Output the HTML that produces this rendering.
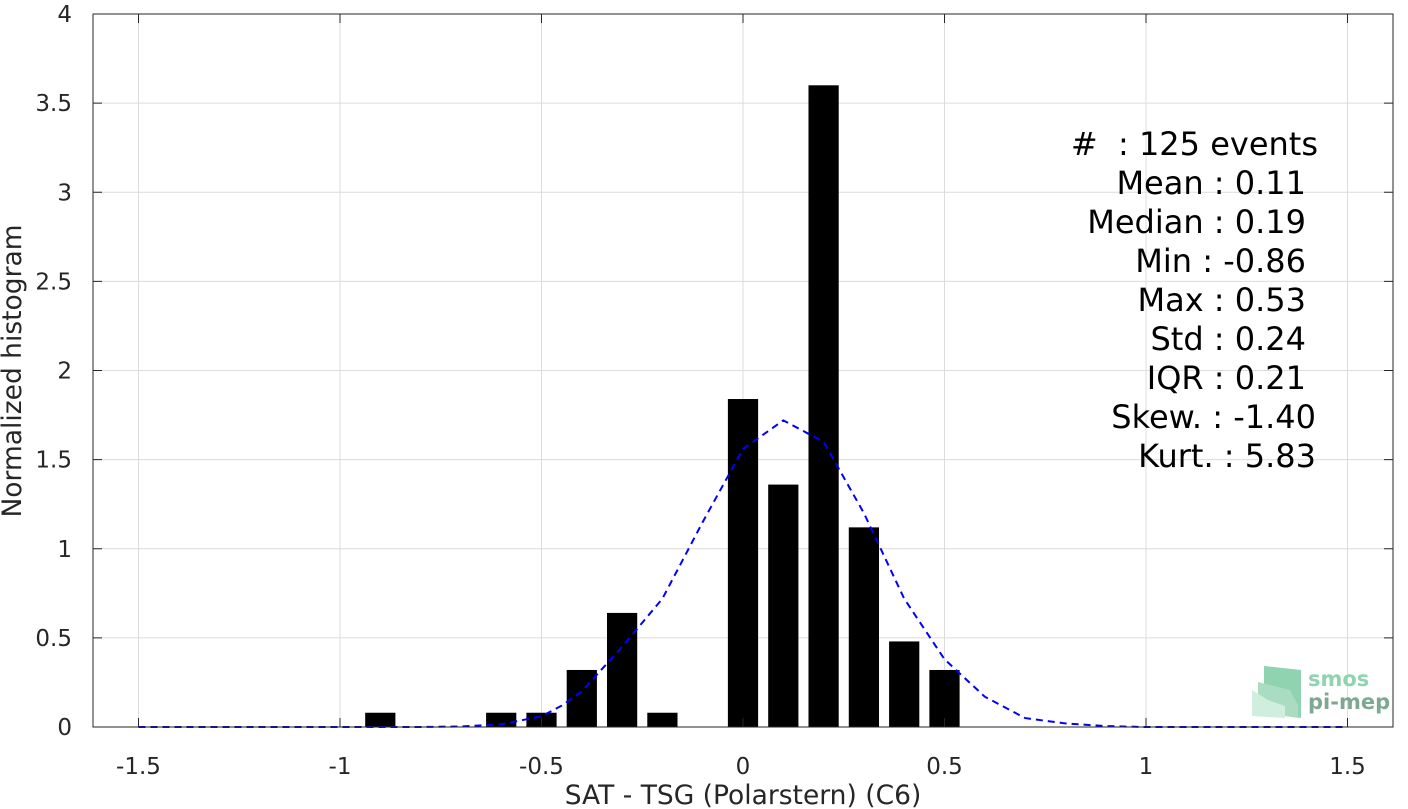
<!DOCTYPE html>
<html><head><meta charset="utf-8"><style>
body{margin:0;background:#fff;}
svg{display:block;font-family:"DejaVu Sans","Liberation Sans",sans-serif;}
</style></head><body>
<svg id="chart" width="1408" height="809">
<rect x="0" y="0" width="1408" height="809" fill="#fff"/>
<g id="grid"></g>
<g id="bars"></g>
<path id="curve" fill="none" stroke="#0000ff" stroke-width="2" stroke-dasharray="7,5"/>
<rect x="93" y="14" width="1300" height="713" fill="none" stroke="#262626" stroke-width="1"/>
<g id="ticks" font-size="23" fill="#262626"></g>
<text x="743" y="804" text-anchor="middle" font-size="26.5" fill="#262626">SAT - TSG (Polarstern) (C6)</text>
<text transform="translate(21,371) rotate(-90)" text-anchor="middle" font-size="26.5" fill="#262626">Normalized histogram</text>
<g font-size="32" fill="#000" text-anchor="end" style="white-space:pre">
<text x="1318" y="155" xml:space="preserve">#  : 125 events</text>
<text x="1306" y="194">Mean : 0.11</text>
<text x="1306" y="233">Median : 0.19</text>
<text x="1306" y="272">Min : -0.86</text>
<text x="1306" y="311">Max : 0.53</text>
<text x="1306" y="350">Std : 0.24</text>
<text x="1306" y="389">IQR : 0.21</text>
<text x="1316" y="428">Skew. : -1.40</text>
<text x="1316" y="467">Kurt. : 5.83</text>
</g>
<g>
<polygon points="1264,666 1301,670 1301,718 1264,712" fill="#8fd3b0"/>
<polygon points="1258,682 1290,690 1298,705 1298,718 1258,712" fill="#a9dcc0"/>
<polygon points="1252,690 1268,700 1285,706 1285,718 1252,716" fill="#cfeedd"/>
<text x="1308" y="686" font-size="21" font-weight="bold" fill="#8fd3b0">smos</text>
<text x="1308" y="709" font-size="21" font-weight="bold" fill="#7fa892">pi-mep</text>
</g>
</svg>
<script>
const binCenters=[-0.9,-0.6,-0.5,-0.4,-0.3,-0.2,0,0.1,0.2,0.3,0.4,0.5];
const binValues=[0.08,0.08,0.08,0.32,0.64,0.08,1.84,1.36,3.6,1.12,0.48,0.32];
const curveX=[-1.5,-1.4,-1.3,-1.2,-1.1,-1.0,-0.9,-0.8,-0.7,-0.6,-0.5,-0.45,-0.4,-0.3,-0.2,-0.1,0,0.1,0.2,0.3,0.4,0.5,0.6,0.7,0.8,0.9,1.0,1.1,1.2,1.3,1.4,1.5];
const curveY=[0,0,0,0,0,0,0,0,0.003,0.015,0.06,0.12,0.2,0.45,0.72,1.15,1.56,1.72,1.6,1.2,0.72,0.38,0.17,0.05,0.02,0.005,0,0,0,0,0,0];
const xTicks=[-1.5,-1,-0.5,0,0.5,1,1.5];
const xTickLabels=["-1.5","-1","-0.5","0","0.5","1","1.5"];
const yTicks=[0,0.5,1,1.5,2,2.5,3,3.5,4];
const yTickLabels=["0","0.5","1","1.5","2","2.5","3","3.5","4"];
const NS='http://www.w3.org/2000/svg';
const sx=v=>743+v*403;
const sy=v=>727-v*178.25;
const grid=document.getElementById('grid'),ticks=document.getElementById('ticks'),bars=document.getElementById('bars');
function mk(tag,attrs,parent){const e=document.createElementNS(NS,tag);for(const k in attrs)e.setAttribute(k,attrs[k]);parent.appendChild(e);return e;}
xTicks.forEach((t,i)=>{
 const g=mk('line',{x1:sx(t),x2:sx(t),y1:14,y2:727,stroke:'#dcdcdc','stroke-width':1},grid);
 
 
 mk('line',{x1:sx(t),x2:sx(t),y1:727,y2:718,stroke:'#262626'},ticks);
 mk('line',{x1:sx(t),x2:sx(t),y1:14,y2:23,stroke:'#262626'},ticks);
 const tx=mk('text',{x:sx(t),y:774,'text-anchor':'middle'},ticks);tx.textContent=xTickLabels[i];
 
 
});
yTicks.forEach((t,i)=>{
 const g=mk('line',{x1:93,x2:1393,y1:sy(t),y2:sy(t),stroke:'#dcdcdc','stroke-width':1},grid);
 
 
 mk('line',{x1:93,x2:102,y1:sy(t),y2:sy(t),stroke:'#262626'},ticks);
 mk('line',{x1:1393,x2:1384,y1:sy(t),y2:sy(t),stroke:'#262626'},ticks);
 const tx=mk('text',{x:72,y:sy(t)+8,'text-anchor':'end'},ticks);tx.textContent=yTickLabels[i];
 
 
});
binCenters.forEach((c,i)=>{
 const w=0.075*403;
 const r=mk('rect',{x:sx(c)-w/2,y:sy(binValues[i]),width:w,height:sy(0)-sy(binValues[i]),fill:'#000'},bars);
 
 
});
document.getElementById('curve').setAttribute('d',curveX.map((x,i)=>(i?'L':'M')+sx(x)+','+sy(curveY[i])).join(''));
</script>
</body></html>
